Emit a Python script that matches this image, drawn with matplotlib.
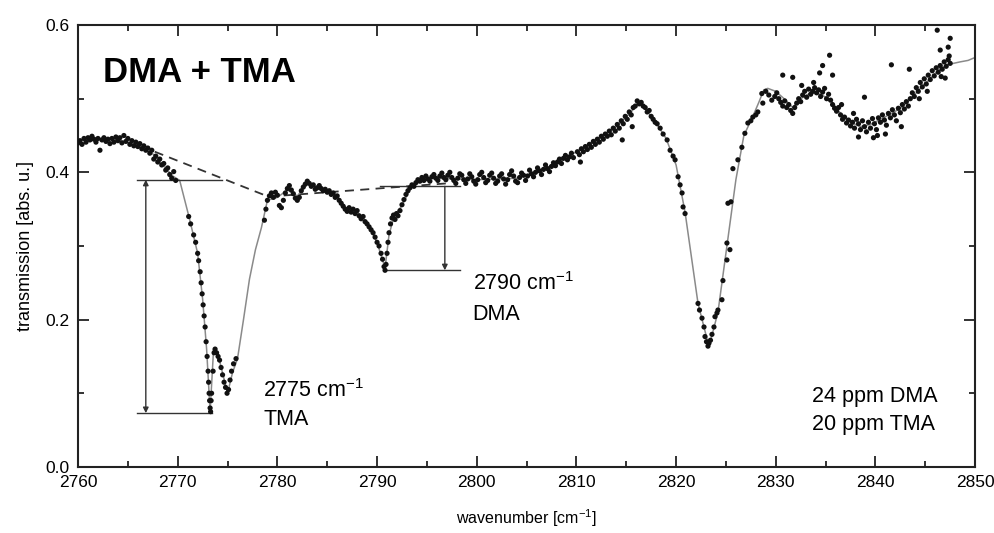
# transmission spectrum of DMA + TMA mixture, 2760-2850 cm-1
import matplotlib.pyplot as plt
from matplotlib.ticker import MultipleLocator

plt.rcParams['font.family'] = ['Liberation Sans', 'DejaVu Sans']
plt.rcParams['mathtext.fontset'] = 'custom'
plt.rcParams['mathtext.rm'] = 'Liberation Sans'

# measured points (wavenumber, transmission)
meas_x = [
    2760.0, 2760.2, 2760.4, 2760.6, 2760.8, 2761.0, 2761.2, 2761.4, 2761.6, 2761.8,
    2762.0, 2762.2, 2762.4, 2762.6, 2762.8, 2763.0, 2763.2, 2763.4, 2763.6, 2763.8,
    2764.0, 2764.2, 2764.4, 2764.6, 2764.8, 2765.0, 2765.2, 2765.4, 2765.6, 2765.8,
    2766.0, 2766.2, 2766.4, 2766.6, 2766.8, 2767.0, 2767.2, 2767.4, 2767.6, 2767.8,
    2768.0, 2768.2, 2768.4, 2768.6, 2768.8, 2769.0, 2769.2, 2769.4, 2769.6, 2769.8,
    # TMA band
    2771.1, 2771.3, 2771.6, 2771.8, 2772.0, 2772.1, 2772.25, 2772.35, 2772.45, 2772.55,
    2772.65, 2772.75, 2772.85, 2772.95, 2773.05, 2773.1, 2773.15, 2773.2, 2773.25, 2773.3,
    2773.35, 2773.4, 2773.55, 2773.65, 2773.75, 2773.9, 2774.05, 2774.2, 2774.35, 2774.5,
    2774.65, 2774.8, 2774.95, 2775.1, 2775.25, 2775.4, 2775.6, 2775.85,
    2778.7, 2778.85, 2779.0,
    # 2779-2797
    2779.2, 2779.4, 2779.6, 2779.8, 2780.0, 2780.2, 2780.4, 2780.6, 2780.8, 2781.0,
    2781.2, 2781.4, 2781.6, 2781.8, 2782.0, 2782.2, 2782.4, 2782.6, 2782.8, 2783.0,
    2783.2, 2783.4, 2783.6, 2783.8, 2784.0, 2784.2, 2784.4, 2784.6, 2784.8, 2785.0,
    2785.2, 2785.4, 2785.6, 2785.8, 2786.0, 2786.2, 2786.4, 2786.6, 2786.8, 2787.0,
    2787.2, 2787.4, 2787.6, 2787.8, 2788.0, 2788.2, 2788.4, 2788.6, 2788.8, 2789.0,
    2789.2, 2789.4, 2789.6, 2789.8, 2790.0, 2790.2, 2790.4, 2790.55, 2790.7, 2790.8,
    2790.9, 2791.0, 2791.1, 2791.2, 2791.35, 2791.5, 2791.65, 2791.8, 2791.95, 2792.1,
    2792.3, 2792.5, 2792.7, 2792.9, 2793.1, 2793.3, 2793.5, 2793.7, 2793.9, 2794.1,
    2794.3, 2794.5, 2794.7, 2794.9, 2795.1, 2795.3, 2795.5, 2795.7, 2795.9, 2796.1,
    2796.3, 2796.5, 2796.7, 2796.9, 2797.1, 2797.3, 2797.5,
    # 2797-2809
    2797.7, 2797.9, 2798.1, 2798.3, 2798.5, 2798.7, 2798.9, 2799.1, 2799.3, 2799.5,
    2799.7, 2799.9, 2800.1, 2800.3, 2800.5, 2800.7, 2800.9, 2801.1, 2801.3, 2801.5,
    2801.7, 2801.9, 2802.1, 2802.3, 2802.5, 2802.7, 2802.9, 2803.1, 2803.3, 2803.5,
    2803.7, 2803.9, 2804.1, 2804.3, 2804.5, 2804.7, 2804.9, 2805.1, 2805.3, 2805.5,
    2805.7, 2805.9, 2806.1, 2806.3, 2806.5, 2806.7, 2806.9, 2807.1, 2807.3, 2807.5,
    2807.7, 2807.9, 2808.1, 2808.3, 2808.5, 2808.7, 2808.9, 2809.1,
    # rise to 2816 peak
    2809.3, 2809.5, 2809.7, 2810.1, 2810.3, 2810.5, 2810.7, 2810.9, 2811.1, 2811.3,
    2811.5, 2811.7, 2811.9, 2812.1, 2812.3, 2812.5, 2812.7, 2812.9, 2813.1, 2813.3,
    2813.5, 2813.7, 2813.9, 2814.1, 2814.3, 2814.5, 2814.7, 2814.9, 2815.1, 2815.3,
    2815.5, 2815.7, 2815.9, 2816.1, 2816.3, 2816.5, 2816.7, 2816.9, 2817.1, 2817.3,
    2817.5, 2817.7, 2817.9, 2810.4, 2814.6, 2815.6,
    # band at 2823
    2818.1, 2818.4, 2818.7, 2819.1, 2819.4, 2819.7, 2819.9, 2820.2, 2820.4, 2820.6,
    2820.7, 2820.9, 2822.2, 2822.35, 2822.6, 2822.8, 2822.9, 2823.05, 2823.2, 2823.3,
    2823.45, 2823.6, 2823.8, 2823.9, 2824.1, 2824.2, 2824.6, 2824.7, 2825.1, 2825.1,
    2825.4, 2825.2, 2825.5, 2825.7, 2826.2, 2826.6, 2826.9, 2827.2, 2827.5, 2827.7,
    2828.0, 2828.2, 2828.6, 2828.7,
    # 2829-2850, noisy
    2829.0, 2829.3, 2829.6, 2829.9, 2830.1, 2830.3, 2830.5, 2830.7, 2830.9, 2831.1,
    2831.3, 2831.5, 2831.7, 2831.9, 2832.1, 2832.3, 2832.5, 2832.7, 2832.9, 2833.1,
    2833.3, 2833.5, 2833.7, 2833.9, 2834.1, 2834.3, 2834.5, 2834.7, 2834.9, 2835.1,
    2835.3, 2835.5, 2835.7, 2835.9, 2836.1, 2836.3, 2836.5, 2836.7, 2836.9, 2837.1,
    2837.3, 2837.5, 2837.7, 2837.9, 2838.1, 2838.3, 2838.5, 2838.7, 2838.9, 2839.1,
    2839.3, 2839.5, 2839.7, 2839.9, 2840.1, 2840.3, 2840.5, 2840.7, 2840.9, 2841.1,
    2841.3, 2841.5, 2841.7, 2841.9, 2842.1, 2842.3, 2842.5, 2842.7, 2842.9, 2843.1,
    2843.3, 2843.5, 2843.7, 2843.9, 2844.1, 2844.3, 2844.5, 2844.7, 2844.9, 2845.1,
    2845.3, 2845.5, 2845.7, 2845.9, 2846.1, 2846.3, 2846.5, 2846.7, 2846.9, 2847.1,
    2847.3, 2847.5,
    2830.7, 2831.7, 2834.4, 2834.7, 2835.4, 2835.7, 2838.9, 2841.6, 2843.4, 2846.2,
    2846.5, 2847.3, 2847.5, 2847.4, 2846.6, 2847.0, 2839.8, 2840.2, 2841.0, 2842.6,
    2838.3, 2836.6, 2837.8, 2833.8, 2832.6, 2844.4, 2845.2,
]
meas_y = [
    0.440, 0.443, 0.438, 0.446, 0.441, 0.447, 0.444, 0.449, 0.445, 0.441,
    0.446, 0.430, 0.444, 0.447, 0.442, 0.445, 0.439, 0.446, 0.441, 0.448,
    0.443, 0.447, 0.440, 0.450, 0.442, 0.446, 0.438, 0.443, 0.436, 0.441,
    0.435, 0.439, 0.432, 0.436, 0.430, 0.433, 0.426, 0.430, 0.418, 0.422,
    0.414, 0.418, 0.410, 0.412, 0.403, 0.406, 0.397, 0.392, 0.401, 0.389,
    0.340, 0.330, 0.315, 0.305, 0.290, 0.280, 0.265, 0.250, 0.235, 0.220,
    0.205, 0.190, 0.170, 0.150, 0.130, 0.115, 0.100, 0.090, 0.080, 0.075,
    0.090, 0.100, 0.130, 0.155, 0.160, 0.155, 0.150, 0.145, 0.135, 0.125,
    0.115, 0.108, 0.100, 0.105, 0.118, 0.130, 0.140, 0.147,
    0.335, 0.350, 0.362,
    0.368, 0.372, 0.366, 0.373, 0.369, 0.355, 0.352, 0.362, 0.372, 0.378,
    0.382, 0.376, 0.371, 0.365, 0.362, 0.366, 0.375, 0.380, 0.384, 0.388,
    0.385, 0.381, 0.383, 0.377, 0.379, 0.382, 0.378, 0.375, 0.377, 0.373,
    0.375, 0.370, 0.372, 0.366, 0.368, 0.362, 0.358, 0.354, 0.350, 0.347,
    0.352, 0.346, 0.350, 0.344, 0.348, 0.341, 0.337, 0.340, 0.333, 0.330,
    0.326, 0.322, 0.318, 0.312, 0.305, 0.300, 0.290, 0.282, 0.272, 0.267,
    0.275, 0.290, 0.305, 0.318, 0.330, 0.338, 0.342, 0.336, 0.344, 0.341,
    0.348, 0.356, 0.363, 0.370, 0.375, 0.379, 0.383, 0.381, 0.386, 0.390,
    0.388, 0.393, 0.389, 0.395, 0.391, 0.388, 0.394, 0.397, 0.392, 0.389,
    0.395, 0.399, 0.393, 0.390, 0.396, 0.400, 0.393,
    0.389, 0.385, 0.392, 0.398, 0.396, 0.390, 0.385, 0.391, 0.398, 0.394,
    0.388, 0.384, 0.390, 0.397, 0.400, 0.393, 0.386, 0.389, 0.396, 0.399,
    0.392, 0.385, 0.388, 0.395, 0.398, 0.391, 0.384, 0.390, 0.397, 0.402,
    0.395, 0.388, 0.386, 0.393, 0.399, 0.396, 0.389, 0.395, 0.403, 0.398,
    0.394, 0.400, 0.406, 0.402, 0.397, 0.404, 0.410, 0.405, 0.401, 0.408,
    0.413, 0.409, 0.414, 0.418, 0.412, 0.419, 0.423, 0.417,
    0.421, 0.426, 0.420, 0.428, 0.424, 0.432, 0.428, 0.435, 0.431, 0.438,
    0.434, 0.442, 0.438, 0.445, 0.441, 0.449, 0.445, 0.452, 0.449, 0.456,
    0.451, 0.460, 0.456, 0.465, 0.460, 0.470, 0.466, 0.476, 0.472, 0.482,
    0.478, 0.488, 0.490, 0.497, 0.493, 0.495, 0.490, 0.488, 0.482, 0.484,
    0.476, 0.472, 0.468, 0.414, 0.444, 0.462,
    0.466, 0.460, 0.452, 0.444, 0.430, 0.422, 0.417, 0.394, 0.383, 0.372,
    0.353, 0.344, 0.222, 0.213, 0.202, 0.190, 0.177, 0.170, 0.164, 0.168,
    0.172, 0.180, 0.190, 0.204, 0.209, 0.213, 0.227, 0.253, 0.281, 0.304,
    0.295, 0.358, 0.360, 0.405, 0.417, 0.434, 0.453, 0.467, 0.470, 0.475,
    0.478, 0.482, 0.507, 0.494,
    0.510, 0.505, 0.498, 0.503, 0.508, 0.500, 0.495, 0.490, 0.497, 0.488,
    0.492, 0.484, 0.480, 0.488, 0.494, 0.500, 0.496, 0.505, 0.510, 0.502,
    0.513, 0.506, 0.510, 0.515, 0.508, 0.512, 0.503, 0.509, 0.514, 0.500,
    0.506, 0.498, 0.492, 0.487, 0.483, 0.488, 0.478, 0.472, 0.475, 0.467,
    0.471, 0.463, 0.468, 0.460, 0.472, 0.466, 0.458, 0.470, 0.462, 0.455,
    0.468, 0.460, 0.473, 0.466, 0.458, 0.474, 0.468, 0.478, 0.471, 0.464,
    0.480, 0.474, 0.485, 0.478, 0.470, 0.487, 0.481, 0.492, 0.486, 0.496,
    0.490, 0.500, 0.508, 0.503, 0.515, 0.510, 0.522, 0.516, 0.527, 0.520,
    0.532, 0.526, 0.538, 0.531, 0.542, 0.536, 0.545, 0.540, 0.550, 0.544,
    0.553, 0.548,
    0.532, 0.529, 0.535, 0.545, 0.559, 0.532, 0.502, 0.546, 0.540, 0.593,
    0.566, 0.570, 0.582, 0.558, 0.530, 0.528, 0.447, 0.450, 0.452, 0.462,
    0.448, 0.492, 0.480, 0.522, 0.518, 0.500, 0.510,
]

# fitted spectrum (grey line)
fit_x = [2760.0, 2762.0, 2764.0, 2766.0, 2767.5, 2768.5, 2769.5, 2770.2, 2771.2, 2772.0,
         2772.5, 2772.9, 2773.25, 2773.6, 2774.0, 2775.0, 2775.5, 2776.0, 2776.6, 2777.2,
         2777.8, 2778.4, 2779.0, 2780.0, 2781.0, 2782.0, 2783.0, 2784.0, 2785.0, 2786.0,
         2787.0, 2788.0, 2789.0, 2790.0, 2790.8, 2791.2, 2791.7, 2792.5, 2793.5, 2794.5,
         2796.0, 2798.0, 2800.0, 2802.0, 2804.0, 2806.0, 2808.0, 2810.0, 2812.0, 2814.0,
         2815.5, 2816.2, 2817.0, 2818.0, 2819.0, 2820.0, 2820.9, 2822.2, 2823.3, 2824.2,
         2825.0, 2826.0, 2826.8, 2827.7, 2828.3, 2828.8, 2829.2, 2830.0, 2831.0, 2831.7,
         2832.5, 2833.5, 2834.5, 2835.5, 2836.5, 2837.5, 2838.5, 2839.5, 2840.5, 2841.5,
         2842.5, 2843.5, 2844.5, 2845.5, 2846.5, 2847.5, 2848.5, 2849.3, 2850.0]
fit_y = [0.443, 0.446, 0.444, 0.437, 0.425, 0.410, 0.395, 0.389, 0.336, 0.290,
         0.228, 0.160, 0.075, 0.160, 0.155, 0.100, 0.128, 0.147, 0.200, 0.255,
         0.295, 0.325, 0.362, 0.366, 0.376, 0.368, 0.384, 0.380, 0.374, 0.366,
         0.350, 0.346, 0.332, 0.305, 0.270, 0.315, 0.340, 0.355, 0.382, 0.391,
         0.392, 0.391, 0.390, 0.391, 0.392, 0.401, 0.412, 0.428, 0.443, 0.462,
         0.482, 0.495, 0.485, 0.467, 0.446, 0.410, 0.346, 0.222, 0.163, 0.210,
         0.290, 0.390, 0.450, 0.476, 0.495, 0.512, 0.514, 0.510, 0.498, 0.488,
         0.500, 0.508, 0.506, 0.498, 0.480, 0.468, 0.462, 0.465, 0.472, 0.479,
         0.487, 0.499, 0.514, 0.527, 0.541, 0.547, 0.550, 0.552, 0.556]

# baselines and peak depths
base1_x = [2767.7, 2779.1]
base1_y = [0.428, 0.367]
base2_x = [2779.1, 2797.0]
base2_y = [0.367, 0.385]
tma_top, tma_bot, tma_x = 0.390, 0.073, 2766.8
dma_top, dma_bot, dma_x = 0.381, 0.267, 2796.8

fig, ax = plt.subplots(figsize=(9.94, 5.33), dpi=100)
fig.subplots_adjust(left=0.0785, right=0.981, bottom=0.124, top=0.953)

ax.plot(fit_x, fit_y, color='#8a8a8a', lw=1.1, zorder=2)
ax.scatter(meas_x, meas_y, s=14, color='#111111', edgecolors='none', zorder=3)

ax.plot(base1_x, base1_y, color='#333333', lw=1.3, dashes=(5, 3.5), zorder=1)
ax.plot(base2_x, base2_y, color='#333333', lw=1.3, dashes=(5, 3.5), zorder=1)

lc = '#333333'
ax.plot([2765.9, 2774.4], [tma_top, tma_top], color=lc, lw=1.0)
ax.plot([2765.9, 2773.4], [tma_bot, tma_bot], color=lc, lw=1.0)
ax.annotate('', xy=(tma_x, tma_bot), xytext=(tma_x, tma_top),
            arrowprops=dict(arrowstyle='<|-|>', color=lc, lw=1.0,
                            mutation_scale=8, shrinkA=0, shrinkB=0))
ax.plot([2790.3, 2798.3], [dma_top, dma_top], color=lc, lw=1.0)
ax.plot([2790.8, 2798.3], [dma_bot, dma_bot], color=lc, lw=1.0)
ax.annotate('', xy=(dma_x, dma_bot), xytext=(dma_x, dma_top),
            arrowprops=dict(arrowstyle='-|>', color=lc, lw=1.0,
                            mutation_scale=8, shrinkA=0, shrinkB=0))

ax.text(2762.5, 0.523, 'DMA + TMA', fontsize=25, fontweight='bold')
ax.text(2778.6, 0.095, r'2775 cm$^{\mathregular{-1}}$', fontsize=15.5)
ax.text(2778.6, 0.057, 'TMA', fontsize=15.5)
ax.text(2799.6, 0.240, r'2790 cm$^{\mathregular{-1}}$', fontsize=15.5)
ax.text(2799.6, 0.200, 'DMA', fontsize=15.5)
ax.text(2833.6, 0.088, '24 ppm DMA', fontsize=15.5)
ax.text(2833.6, 0.050, '20 ppm TMA', fontsize=15.5)

ax.set_xlim(2760, 2850)
ax.set_ylim(0, 0.6)
ax.xaxis.set_major_locator(MultipleLocator(10))
ax.xaxis.set_minor_locator(MultipleLocator(5))
ax.yaxis.set_major_locator(MultipleLocator(0.2))
ax.yaxis.set_minor_locator(MultipleLocator(0.1))
ax.yaxis.set_major_formatter(plt.FormatStrFormatter('%.1f'))
ax.tick_params(which='both', direction='in', top=True, right=True,
               labelsize=12.5, width=1.3, color='#222222')
ax.tick_params(which='major', length=8, pad=6)
ax.tick_params(which='minor', length=4.5)
for s in ax.spines.values():
    s.set_linewidth(1.5)
    s.set_color('#222222')

ax.set_xlabel(r'wavenumber [cm$^{\mathregular{-1}}$]', fontsize=11.5, labelpad=12)
ax.set_ylabel('transmission [abs. u.]', fontsize=13, labelpad=8)

plt.savefig('out.png')
